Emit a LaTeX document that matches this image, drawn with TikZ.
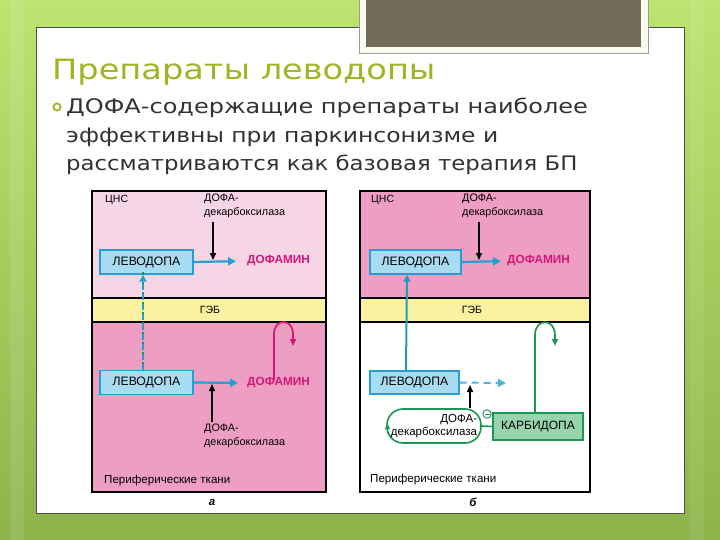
\documentclass[tikz,border=0pt]{standalone}
\usepackage{fontspec}
\setmainfont{Liberation Sans}
\newfontfamily\titlefont[FakeStretch=1.2]{DejaVu Sans}
\newfontfamily\bodyfontb[FakeStretch=1.17]{DejaVu Sans}
\newfontfamily\bodyfontc[FakeStretch=1.14]{DejaVu Sans}
\usetikzlibrary{arrows.meta}
\definecolor{bgtop}{RGB}{188,228,112}
\definecolor{bgbot}{RGB}{140,180,74}
\definecolor{graybox}{RGB}{115,106,90}
\definecolor{framecol}{RGB}{250,250,240}
\definecolor{titlecol}{RGB}{160,180,36}
\definecolor{bodycol}{RGB}{50,50,50}
\definecolor{cnsA}{RGB}{246,214,228}
\definecolor{pinkB}{RGB}{238,158,194}
\definecolor{gzb}{RGB}{250,242,160}
\definecolor{boxfill}{RGB}{168,220,242}
\definecolor{bluec}{RGB}{38,158,212}
\definecolor{magc}{RGB}{212,22,122}
\definecolor{greenc}{RGB}{28,150,82}
\definecolor{greenfill}{RGB}{150,212,172}
\definecolor{tealc}{RGB}{30,160,180}
\tikzset{
  levbox/.style={draw=bluec, fill=boxfill, line width=1.4pt, minimum width=93pt, minimum height=24pt, inner sep=0pt, font=\fontsize{12.2}{13}\selectfont},
  dopa/.style={text=magc, font=\bfseries\fontsize{11.8}{13}\selectfont, inner sep=0pt, anchor=west},
  enz/.style={font=\fontsize{10.8}{13.5}\selectfont, align=left, inner sep=0pt, anchor=north west},
  small/.style={font=\fontsize{10.5}{12}\selectfont, inner sep=0pt},
  bodytext/.style={anchor=base west, inner sep=0pt, text=bodycol},
  blarrow/.style={bluec, line width=2.2pt, -{Triangle[length=8pt,width=8pt]}},
  bkarrow/.style={black, line width=1.5pt, -{Triangle[length=7pt,width=6pt]}},
  magarrow/.style={magc, line width=1.7pt, -{Triangle[length=7pt,width=6pt]}},
  grarrow/.style={greenc, line width=1.7pt, -{Triangle[length=7pt,width=6pt]}},
  panelborder/.style={line width=1.6pt, draw=black},
  band/.style={line width=1.2pt, draw=black}
}
\begin{document}
\begin{tikzpicture}[x=1pt,y=-1pt]
\useasboundingbox (0,0) rectangle (720,540);
% background
\shade[top color=bgtop, bottom color=bgbot] (0,0) rectangle (720,540);
\fill[white, opacity=0.10] (10,0) rectangle (24,540);
\fill[white, opacity=0.08] (690,0) rectangle (704,540);
% slide
\draw[fill=white, draw=black!70, line width=0.8pt] (36,27) rectangle (684,513);
% gray box
\draw[fill=framecol, draw=black!40, line width=0.6pt] (359,-2) rectangle (648,53);
\fill[graybox] (366,-2) rectangle (641,47);
% title
\node[anchor=base west, inner sep=0pt, text=titlecol, font=\titlefont\fontsize{28}{30}\selectfont] (title) at (52,80) {Препараты леводопы};
% bullet
\draw[titlecol, line width=1.8pt] (57,107) circle (3.6pt);
\node[bodytext, font=\titlefont\fontsize{20}{22}\selectfont] (l1) at (66,114) {ДОФА-содержащие препараты наиболее};
\node[bodytext, font=\bodyfontb\fontsize{20}{22}\selectfont] (l2) at (66,142.5) {эффективны при паркинсонизме и};
\node[bodytext, font=\bodyfontc\fontsize{20}{22}\selectfont] (l3) at (66,171) {рассматриваются как базовая терапия БП};

% ---------------- panel a
\fill[cnsA] (92,191) rectangle (326,298);
\fill[gzb] (92,298) rectangle (326,322);
\fill[pinkB] (92,322) rectangle (326,492);
\draw[band] (92,298) -- (326,298);
\draw[band] (92,322) -- (326,322);
\draw[panelborder] (92,191) rectangle (326,492);

\node[small, anchor=north west] (cnsa) at (105,195) {ЦНС};
\node[small] (gzba) at (210,310) {ГЭБ};
\node[enz] (enz1a) at (204,194) {ДОФА-\\декарбоксилаза};
\node[levbox] (lev1a) at (146.5,262) {ЛЕВОДОПА};
\node[dopa] (dop1a) at (247,261) {ДОФАМИН};
\coordinate (m1a) at (213,261);
\draw[blarrow, shorten >=11pt] (lev1a.east) -- (dop1a.west);
\draw[bkarrow, shorten >=1pt] (enz1a.south west -| m1a) ++(0,4) -- (m1a);

\node[levbox] (lev2a) at (146.5,382.5) {ЛЕВОДОПА};
\node[dopa] (dop2a) at (247,383) {ДОФАМИН};
\draw[blarrow, shorten >=9pt] (lev2a.east) -- (dop2a.west);
\node[enz] (enz2a) at (204,424) {ДОФА-\\декарбоксилаза};
\coordinate (m2a) at (212,383);
\draw[bkarrow, shorten >=1pt] (enz2a.north west -| m2a) ++(0,-2) -- (m2a);
% dashed
\draw[greenc, line width=2pt, dash pattern=on 3pt off 7pt, dash phase=-5pt] ([xshift=-3.5pt]lev2a.north) -- ([xshift=-3.5pt,yshift=6pt]lev1a.south);
\draw[bluec, line width=2pt, dash pattern=on 6pt off 4pt, -{Triangle[length=7pt,width=7pt]}] ([xshift=-3.5pt]lev2a.north) -- ([xshift=-3.5pt]lev1a.south);
% magenta loop
\draw[magarrow] ([xshift=-4.5pt,yshift=-2pt]dop2a.north) -- (274,334) .. controls (274,318) and (293,318) .. (293,334) -- (293,346);
\node[anchor=west, font=\fontsize{11.6}{13}\selectfont, inner sep=0pt] (pera) at (104,480) {Периферические ткани};
\node[font=\bfseries\itshape\fontsize{11.5}{12}\selectfont, inner sep=0pt] (la) at (212,502) {а};

% ---------------- panel b
\fill[pinkB] (360,191) rectangle (590,298);
\fill[gzb] (360,298) rectangle (590,322);
\fill[white] (360,322) rectangle (590,492);
\draw[band] (360,298) -- (590,298);
\draw[band] (360,322) -- (590,322);
\draw[panelborder] (360,191) rectangle (590,492);

\node[small, anchor=north west] (cnsb) at (371,195) {ЦНС};
\node[small] (gzbb) at (472,310) {ГЭБ};
\node[enz] (enz1b) at (462,194) {ДОФА-\\декарбоксилаза};
\node[levbox, minimum width=91pt] (lev1b) at (415.5,262) {ЛЕВОДОПА};
\node[dopa] (dop1b) at (507,261) {ДОФАМИН};
\coordinate (m1b) at (479,261);
\draw[blarrow, shorten >=6pt] (lev1b.east) -- (dop1b.west);
\draw[bkarrow, shorten >=1pt] (enz1b.south west -| m1b) ++(0,4) -- (m1b);

\node[levbox, minimum width=89pt, minimum height=23pt] (lev2b) at (414.5,382.5) {ЛЕВОДОПА};
\coordinate (dashend) at (506,383);
\draw[bluec!80, line width=2pt, dash pattern=on 7pt off 5pt, -{Triangle[length=8pt,width=8pt]}] (lev2b.east) -- (dashend);
% teal vertical
\draw[tealc, line width=2pt, -{Triangle[length=7pt,width=7pt]}] ([xshift=-8.5pt]lev2b.north) -- ([xshift=-8.5pt]lev1b.south);

\node[draw=greenc, line width=1.6pt, fill=white, rounded corners=16pt, minimum width=94pt, minimum height=34pt, inner sep=2pt, align=right, font=\fontsize{11.5}{13}\selectfont] (enzb) at (434,426) {ДОФА-\\декарбоксилаза};
\draw[greenc, line width=1.4pt, -{Triangle[length=5pt,width=5pt]}] (387.5,433) -- (387.5,424);
\coordinate (m2b) at (470,383);
\draw[bkarrow, shorten >=2pt] (enzb.north -| m2b) -- (m2b);
\node[draw=greenc, line width=1.6pt, fill=greenfill, minimum width=90pt, minimum height=27pt, inner sep=0pt, font=\fontsize{12}{13}\selectfont] (karb) at (538,426.5) {КАРБИДОПА};
\draw[greenc, line width=1.6pt] (enzb.east) -- (karb.west);
\node[circle, draw=greenc, fill=white, line width=0.9pt, minimum size=8.5pt, inner sep=0pt] (minus) at (487,414) {};
\draw[greenc, line width=0.9pt] ([xshift=-2.5pt]minus.center) -- ([xshift=2.5pt]minus.center);
\draw[grarrow] ([xshift=-3pt]karb.north) -- (535,335) .. controls (535,318) and (555,318) .. (555,335) -- (555,346);
\node[anchor=west, font=\fontsize{11.6}{13}\selectfont, inner sep=0pt] (perb) at (370,479) {Периферические ткани};
\node[font=\bfseries\itshape\fontsize{11.5}{12}\selectfont, inner sep=0pt] (lb) at (473,502) {б};
\end{tikzpicture}
\end{document}
